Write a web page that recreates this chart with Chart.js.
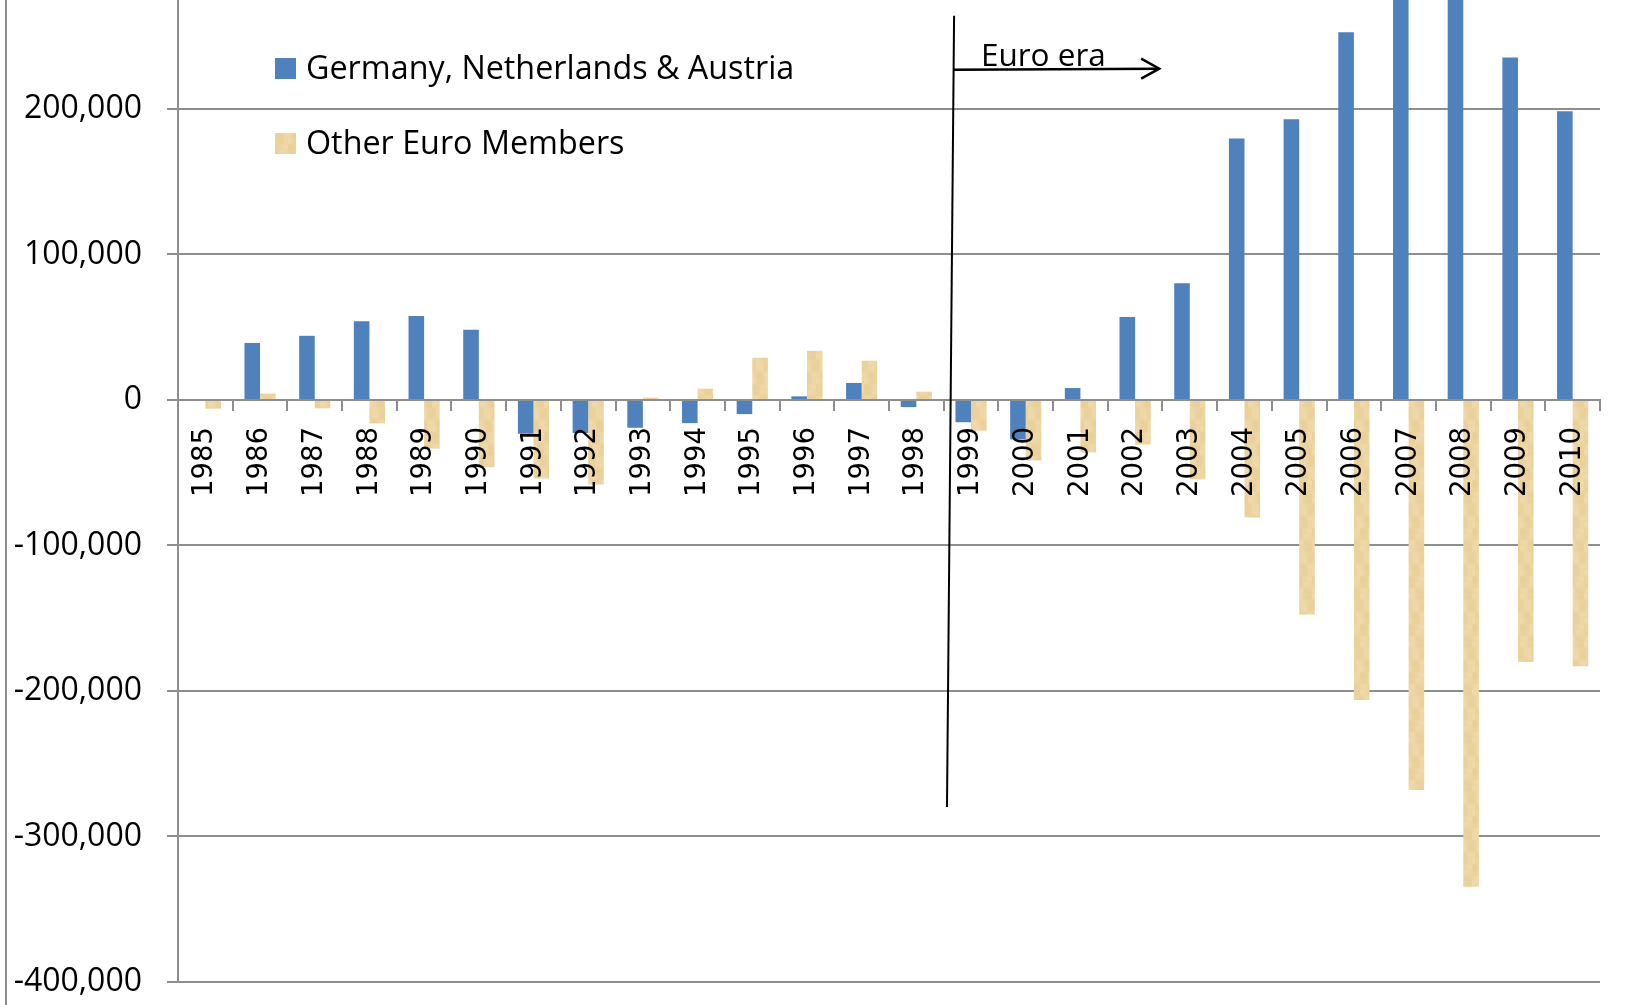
<!DOCTYPE html>
<html><head><meta charset="utf-8">
<script src="https://cdn.jsdelivr.net/npm/chart.js@4/dist/chart.umd.min.js"></script>
<style>
html,body{margin:0;padding:0;background:#fff;}
#wrap{position:relative;width:1637px;height:1005px;overflow:hidden;}
#frame{position:absolute;left:5px;top:0;width:2px;height:1005px;background:#8c8c8c;}
canvas{position:absolute;left:0;top:0;}
</style></head><body>
<div id="wrap"><canvas id="c" width="1637" height="1005"></canvas><div id="frame"></div></div>
<script>
const years = ['1985','1986','1987','1988','1989','1990','1991','1992','1993','1994','1995','1996','1997','1998','1999','2000','2001','2002','2003','2004','2005','2006','2007','2008','2009','2010'];
const germanyNlAustria = [0, 39100, 44100, 54200, 57800, 48200, -23200, -22700, -19100, -15900, -9700, 2500, 11700, -4900, -15300, -27100, 8200, 57100, 80200, 179700, 192900, 252800, 296000, 302000, 235400, 198400];
const otherEuroMembers = [-6000, 4500, -5700, -16100, -33400, -46200, -53900, -58000, 1600, 7800, 29000, 33800, 27000, 5700, -21100, -41600, -36100, -30600, -54400, -80700, -147400, -206200, -268000, -334500, -180000, -183000];
const seriesNames = ['Germany, Netherlands & Austria', 'Other Euro Members'];
const yTickValues = [-400000, -300000, -200000, -100000, 0, 100000, 200000];
const yMin = -400000, yMax = 274900;
const euroEraLabel = 'Euro era';

const ctx = document.getElementById('c').getContext('2d');

function makeTan() {
  const W = 16, H = 48;
  const c = document.createElement('canvas'); c.width = W; c.height = H;
  const g = c.getContext('2d');
  g.fillStyle = '#ECD39F'; g.fillRect(0, 0, W, H);
  const shades = ['#E9CE97', '#EFD8A9', '#EBD19C', '#F1DCB0'];
  const map = [
    [0,2,1,3],[2,0,3,1],[1,3,0,2],[3,1,2,0],
    [0,3,1,2],[2,1,3,0],[1,0,2,3],[3,2,0,1]
  ];
  g.filter = 'blur(1.5px)';
  for (let r = 0; r < 8; r++) for (let k = 0; k < 4; k++) {
    g.fillStyle = shades[map[r][k]];
    g.fillRect(k * 4, r * 6, 4, 6);
  }
  g.filter = 'none';
  return ctx.createPattern(c, 'repeat');
}

const gridGray = '#8e8e8e';

const cornerLegend = {
  id: 'cornerLegend',
  afterDraw(chart, args, o) {
    const c = chart.ctx; c.save();
    chart.data.datasets.forEach((ds, i) => {
      const y = o.top + i * o.spacing;
      c.fillStyle = ds.backgroundColor;
      c.fillRect(o.left, y, o.box, o.box);
      c.fillStyle = '#000'; c.font = o.font; c.textBaseline = 'alphabetic'; c.textAlign = 'left';
      c.fillText(ds.label, o.left + o.box + o.gap, y + o.box);
    });
    c.restore();
  }
};

const euroEra = {
  id: 'euroEra',
  afterDraw(chart, args, o) {
    const xs = chart.scales.x, ys = chart.scales.y, c = chart.ctx;
    const px = v => xs.getPixelForValue(v), py = v => ys.getPixelForValue(v);
    c.save();
    c.strokeStyle = '#000';
    c.lineWidth = o.dividerWidth;
    c.beginPath();
    c.moveTo(px(o.divider[0][0]), py(o.divider[0][1]));
    c.lineTo(px(o.divider[1][0]), py(o.divider[1][1]));
    c.stroke();
    const x0 = px(o.arrow[0][0]), y0 = py(o.arrow[0][1]);
    const x1 = px(o.arrow[1][0]), y1 = py(o.arrow[1][1]);
    c.lineWidth = o.arrowWidth;
    c.beginPath(); c.moveTo(x0, y0); c.lineTo(x1, y1); c.stroke();
    c.beginPath();
    c.moveTo(x1 - o.headLen, y1 - o.headHalf);
    c.lineTo(x1, y1);
    c.lineTo(x1 - o.headLen, y1 + o.headHalf);
    c.stroke();
    c.fillStyle = '#000'; c.font = o.font; c.textAlign = 'left'; c.textBaseline = 'alphabetic';
    c.fillText(euroEraLabel, px(o.text[0]), py(o.text[1]));
    c.restore();
  }
};

new Chart(ctx, {
  type: 'bar',
  data: {
    labels: years,
    datasets: [
      { label: seriesNames[0], data: germanyNlAustria, backgroundColor: '#4F81BD', borderWidth: 0 },
      { label: seriesNames[1], data: otherEuroMembers, backgroundColor: makeTan(), borderWidth: 0 }
    ]
  },
  options: {
    responsive: false,
    animation: false,
    devicePixelRatio: 1,
    datasets: { bar: { categoryPercentage: 0.57, barPercentage: 1.0 } },
    layout: { padding: { left: 0, top: 0, right: 37, bottom: 23 } },
    plugins: {
      legend: { display: false },
      tooltip: { enabled: false },
      cornerLegend: { left: 275, top: 58, spacing: 75, box: 21, gap: 10, font: '32.3px "Open Sans"' },
      euroEra: {
        divider: [[13.69, 264000], [13.56, -279700]],
        arrow: [[13.69, 227000], [17.44, 227700]],
        text: [14.18, 229500],
        dividerWidth: 2, arrowWidth: 2.5, headLen: 18, headHalf: 10,
        font: '31.5px "Open Sans"'
      }
    },
    scales: {
      x: {
        type: 'category',
        position: { y: 0 },
        offset: true,
        grid: { display: true, offset: true, drawOnChartArea: false, drawTicks: true, tickLength: 10, color: gridGray, lineWidth: 2, z: 1 },
        border: { display: true, color: gridGray, width: 2, z: 1 },
        ticks: { z: 2, autoSkip: false, minRotation: 90, maxRotation: 90, padding: 17, color: '#000', font: { family: 'DejaVu Sans', size: 27.5 } },
        afterFit(s) { s.paddingLeft = 0; s.paddingRight = 0; s.paddingTop = 0; s.paddingBottom = 0; }
      },
      y: {
        position: 'left',
        min: yMin, max: yMax,
        afterBuildTicks(s) { s.ticks = yTickValues.map(v => ({ value: v })); },
        afterFit(s) { s.width = 178; s.paddingTop = 0; s.paddingBottom = 0; },
        grid: { color: gridGray, lineWidth: 2, drawTicks: true, tickLength: 11 },
        border: { display: true, color: gridGray, width: 2 },
        ticks: { padding: 25, color: '#000', font: { family: 'Open Sans', size: 32 },
          callback: v => Number(v).toLocaleString('en-US') }
      }
    }
  },
  plugins: [cornerLegend, euroEra]
});
</script>
</body></html>
